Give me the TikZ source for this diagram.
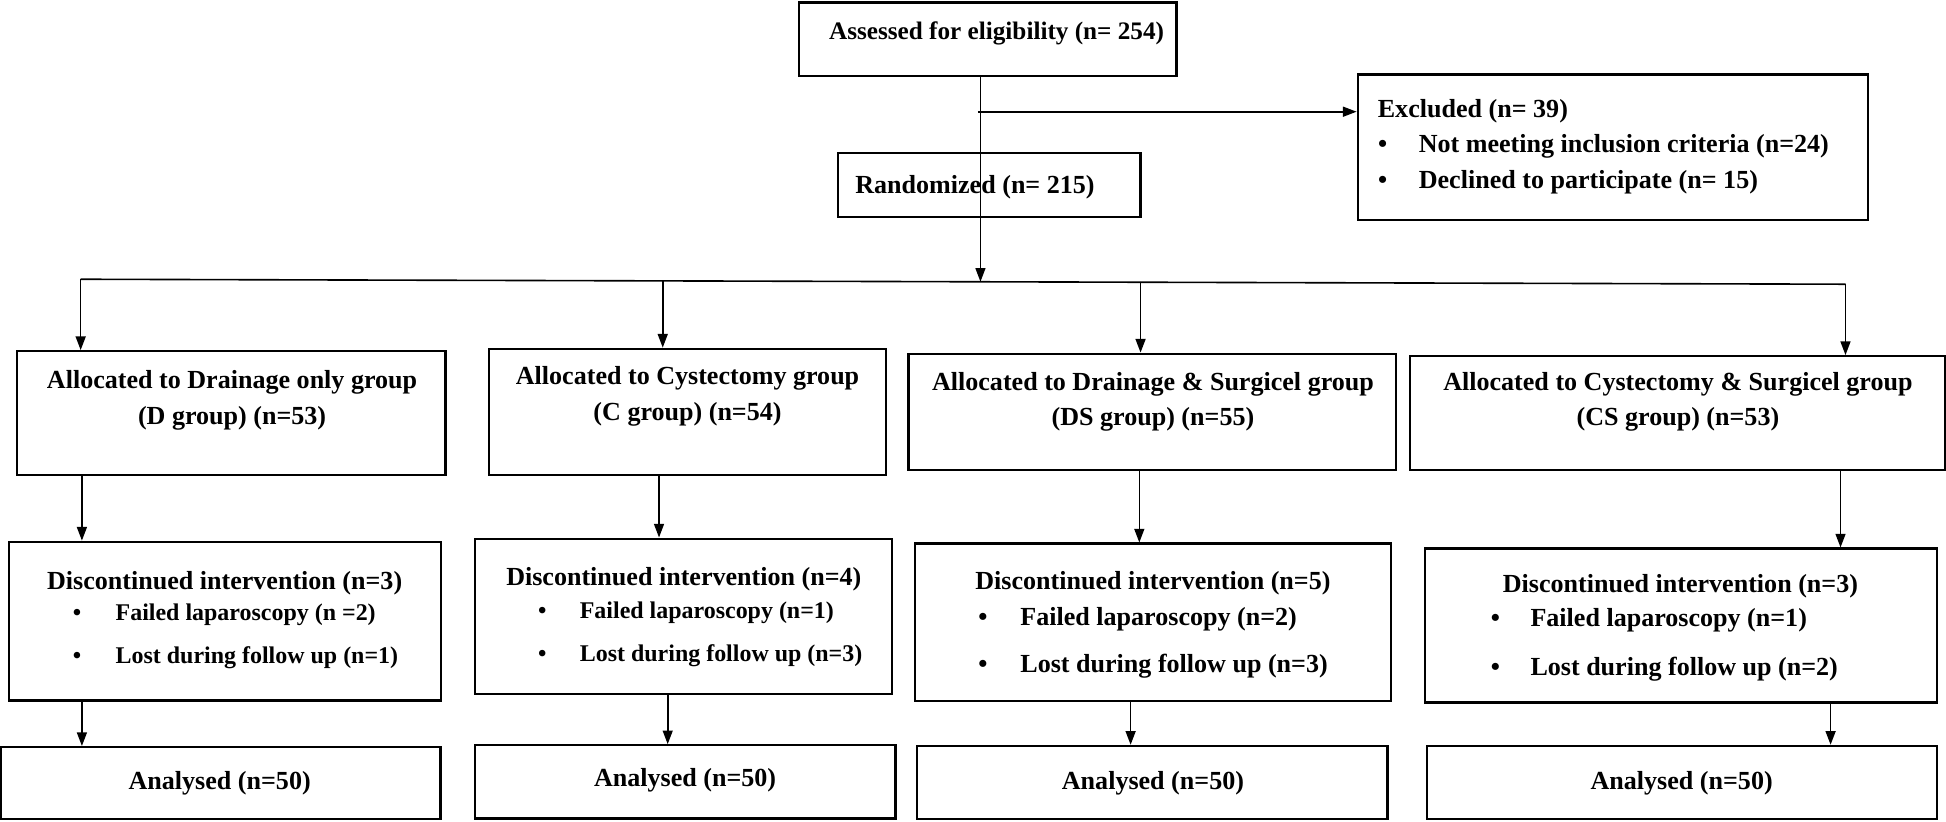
\documentclass[tikz,border=0pt]{standalone}
\usepackage{fontspec}
\setmainfont{Liberation Serif}
\usetikzlibrary{arrows.meta}
\begin{document}
\begin{tikzpicture}[x=1pt,y=-1pt,
  box/.style={draw, line width=1.8pt, inner sep=0pt, rectangle},
  ln/.style={line width=1.3pt},
  arr/.style={line width=1.3pt, -{Triangle[length=11pt,width=8pt]}},
  txt/.style={font=\bfseries\fontsize{21}{26}\selectfont, inner sep=0pt},
  txm/.style={font=\bfseries\fontsize{19.3}{24}\selectfont, inner sep=0pt},
  txs/.style={font=\bfseries\fontsize{20.3}{24}\selectfont, inner sep=0pt}]
\useasboundingbox (0,0) rectangle (1568,662);
% boxes
\node[box, minimum width=304pt, minimum height=59pt] (assessed) at (796,31.5) {};
\node[box, minimum width=411pt, minimum height=117pt] (excl) at (1299.5,118.5) {};
\node[box, minimum width=244pt, minimum height=52pt] (rand) at (797,149) {};
\node[box, minimum width=345pt, minimum height=100pt] (alD) at (186.5,333) {};
\node[box, minimum width=320pt, minimum height=102pt] (alC) at (554,332) {};
\node[box, minimum width=393pt, minimum height=94pt] (alDS) at (928.5,332) {};
\node[box, minimum width=431pt, minimum height=92pt] (alCS) at (1351.5,333) {};
\node[box, minimum width=348pt, minimum height=128pt] (diD) at (181.5,500.5) {};
\node[box, minimum width=336pt, minimum height=125pt] (diC) at (551,496.5) {};
\node[box, minimum width=384pt, minimum height=127pt] (diDS) at (929,501.5) {};
\node[box, minimum width=413pt, minimum height=124pt] (diCS) at (1354.5,504) {};
\node[box, minimum width=354pt, minimum height=58pt] (anD) at (178,631) {};
\node[box, minimum width=339pt, minimum height=59pt] (anC) at (552,630) {};
\node[box, minimum width=379pt, minimum height=59pt] (anDS) at (928.5,630.5) {};
\node[box, minimum width=411pt, minimum height=59pt] (anCS) at (1355.5,630.5) {};
% texts
\node[txs, anchor=base] (tA) at (803,32) {Assessed for eligibility (n= 254)};
\node[txt, anchor=base west] (tE0) at (1110,95) {Excluded (n= 39)};
\node[txt, anchor=base] (tE1b) at (1114,123) {•};
\node[txt, anchor=base west] (tE1) at (1143,123) {Not meeting inclusion criteria (n=24)};
\node[txt, anchor=base] (tE2b) at (1114,152) {•};
\node[txt, anchor=base west] (tE2) at (1143,152) {Declined to participate (n= 15)};
\node[txt, anchor=base west] (tR) at (689,156) {Randomized (n= 215)};
\node[txt, anchor=base] (tD1) at (187,313) {Allocated to Drainage only group};
\node[txt, anchor=base] (tD2) at (187,342) {(D group) (n=53)};
\node[txt, anchor=base] (tC1) at (554,310) {Allocated to Cystectomy group};
\node[txt, anchor=base] (tC2) at (554,339) {(C group) (n=54)};
\node[txt, anchor=base] (tDS1) at (929,315) {Allocated to Drainage \& Surgicel group};
\node[txt, anchor=base] (tDS2) at (929,343) {(DS group) (n=55)};
\node[txt, anchor=base] (tCS1) at (1352,315) {Allocated to Cystectomy \& Surgicel group};
\node[txt, anchor=base] (tCS2) at (1352,343) {(CS group) (n=53)};
% discontinued D
\node[txt, anchor=base] (dD0) at (181,475) {Discontinued intervention (n=3)};
\node[txm, anchor=base] (dD1b) at (62,500) {•};
\node[txm, anchor=base west] (dD1) at (93,500) {Failed laparoscopy (n =2)};
\node[txm, anchor=base] (dD2b) at (62,535) {•};
\node[txm, anchor=base west] (dD2) at (93,535) {Lost during follow up (n=1)};
% discontinued C
\node[txt, anchor=base] (dC0) at (551,472) {Discontinued intervention (n=4)};
\node[txm, anchor=base] (dC1b) at (437,498) {•};
\node[txm, anchor=base west] (dC1) at (467,498) {Failed laparoscopy (n=1)};
\node[txm, anchor=base] (dC2b) at (437,533) {•};
\node[txm, anchor=base west] (dC2) at (467,533) {Lost during follow up (n=3)};
% discontinued DS
\node[txt, anchor=base] (dDS0) at (929,475) {Discontinued intervention (n=5)};
\node[txt, anchor=base] (dDS1b) at (792,504) {•};
\node[txt, anchor=base west] (dDS1) at (822,504) {Failed laparoscopy (n=2)};
\node[txt, anchor=base] (dDS2b) at (792,542) {•};
\node[txt, anchor=base west] (dDS2) at (822,542) {Lost during follow up (n=3)};
% discontinued CS
\node[txt, anchor=base] (dCS0) at (1354,477) {Discontinued intervention (n=3)};
\node[txt, anchor=base] (dCS1b) at (1205,505) {•};
\node[txt, anchor=base west] (dCS1) at (1233,505) {Failed laparoscopy (n=1)};
\node[txt, anchor=base] (dCS2b) at (1205,544) {•};
\node[txt, anchor=base west] (dCS2) at (1233,544) {Lost during follow up (n=2)};
% analysed
\node[txt, anchor=base] (aD) at (177,636) {Analysed (n=50)};
\node[txt, anchor=base] (aC) at (552,634) {Analysed (n=50)};
\node[txt, anchor=base] (aDS) at (929,636) {Analysed (n=50)};
\node[txt, anchor=base] (aCS) at (1355,636) {Analysed (n=50)};
% connectors
\coordinate (split) at (790,227);
\coordinate (ex) at (788,90);
\coordinate (b1) at (65,225);
\coordinate (b2) at (534,226);
\coordinate (b3) at (919,227);
\coordinate (b4) at (1487,229);
\draw[arr] (assessed.south -| split) -- (split);
\draw[arr] (ex) -- (ex -| excl.west);
\draw[ln] (b1) -- (b4);
\draw[arr] (b1) -- (b1 |- alD.north);
\draw[arr] (b2) -- (b2 |- alC.north);
\draw[arr] (b3) -- (b3 |- alDS.north);
\draw[arr] (b4) -- (b4 |- alCS.north);
\draw[arr] (alD.south -| 66,0) -- (diD.north -| 66,0);
\draw[arr] (alC.south -| 531,0) -- (diC.north -| 531,0);
\draw[arr] (alDS.south -| 918,0) -- (diDS.north -| 918,0);
\draw[arr] (alCS.south -| 1483,0) -- (diCS.north -| 1483,0);
\draw[arr] (diD.south -| 66,0) -- (anD.north -| 66,0);
\draw[arr] (diC.south -| 538,0) -- (anC.north -| 538,0);
\draw[arr] (diDS.south -| 911,0) -- (anDS.north -| 911,0);
\draw[arr] (diCS.south -| 1475,0) -- (anCS.north -| 1475,0);
\end{tikzpicture}
\end{document}
